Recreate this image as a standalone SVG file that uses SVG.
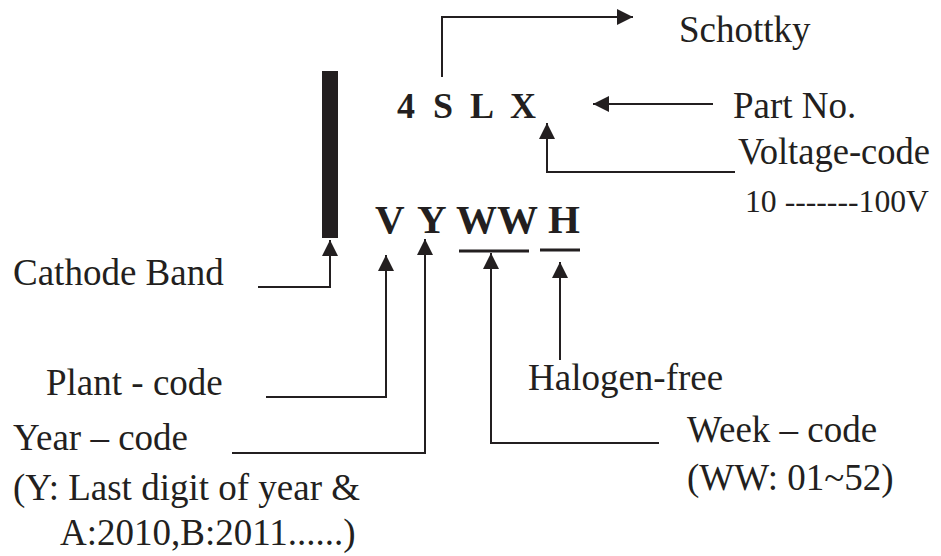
<svg xmlns="http://www.w3.org/2000/svg" width="941" height="556" viewBox="0 0 941 556" font-family="'Liberation Serif', serif">
<defs>
<marker id="ah" viewBox="0 0 16 16" refX="16" refY="8" markerWidth="16" markerHeight="16" markerUnits="userSpaceOnUse" orient="auto">
<path d="M0,0 L16,8 L0,16 Z" fill="#231f20"/>
</marker>
<style>
text{font-family:'Liberation Serif',serif}
.lbl{font-size:37px;fill:#231f20}
.sm{font-size:31px}
.code{font-weight:bold;fill:#231f20}
.c1{font-size:36px}
.c2{font-size:41px}
.ln{fill:none;stroke:#231f20;stroke-width:2}
.ar{fill:none;stroke:#231f20;stroke-width:2;marker-end:url(#ah)}
.ul{stroke:#231f20;stroke-width:3}
</style>
</defs>
<rect width="941" height="556" fill="#fff"/>

<g id="band"><rect x="322" y="71" width="16" height="167" fill="#231f20"/></g>

<g id="partcode">
<text class="code c1" x="397" y="118">4</text>
<text class="code c1" x="433" y="118">S</text>
<text class="code c1" x="470" y="118">L</text>
<text class="code c1" x="510" y="118">X</text>
</g>

<g id="datecode">
<text class="code c2" x="375" y="233">V</text>
<text class="code c2" x="417" y="233">Y</text>
<text class="code c2" x="456" y="233">WW</text>
<text class="code c2" x="548" y="233">H</text>
<line class="ul" x1="459" y1="251" x2="529" y2="251"/>
<line class="ul" x1="540" y1="250" x2="580" y2="250"/>
</g>

<g id="schottky"><text class="lbl" x="679" y="42">Schottky</text></g>
<g id="partno"><text class="lbl" x="733" y="118">Part No.</text></g>
<g id="voltage">
<text class="lbl" x="738" y="164" textLength="192" lengthAdjust="spacingAndGlyphs">Voltage-code</text>
<text class="lbl sm" x="745" y="212" textLength="184" lengthAdjust="spacingAndGlyphs">10  -------100V</text>
</g>
<g id="cathode"><text class="lbl" x="13" y="285">Cathode Band</text></g>
<g id="plant"><text class="lbl" x="46" y="395">Plant - code</text></g>
<g id="year">
<text class="lbl" x="13" y="450">Year – code</text>
<text class="lbl" x="13" y="500">(Y: Last digit of year &amp;</text>
<text class="lbl" x="60" y="545">A:2010,B:2011......)</text>
</g>
<g id="halogen"><text class="lbl" x="528" y="390">Halogen-free</text></g>
<g id="week">
<text class="lbl" x="687" y="442">Week – code</text>
<text class="lbl" x="687" y="490">(WW: 01~52)</text>
</g>

<g id="connectors">
<path class="ar" d="M442,77 V17 H633"/>
<path class="ar" d="M713,104 H593"/>
<path class="ar" d="M735,172 H547 V123"/>
<path class="ar" d="M258,287 H330 V240"/>
<path class="ar" d="M266,397 H386 V255"/>
<path class="ar" d="M232,453 H425 V239"/>
<path class="ar" d="M659,443 H491 V253"/>
<path class="ar" d="M560,360 V262"/>
</g>
</svg>
